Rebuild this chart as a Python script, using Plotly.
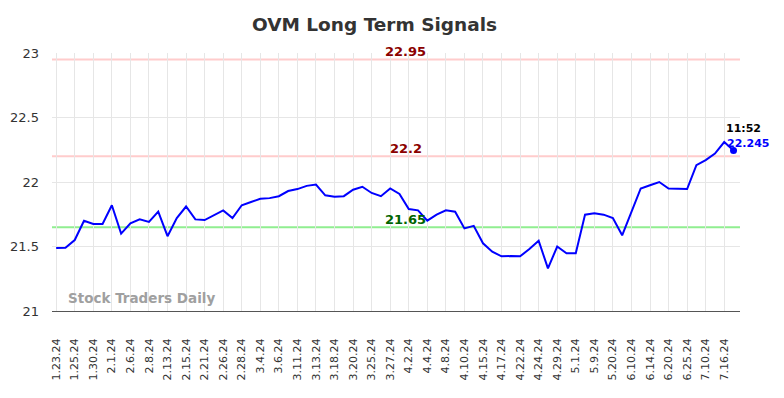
import plotly.graph_objects as go

dates = ["1.23.24","1.24.24","1.25.24","1.26.24","1.30.24","1.31.24","2.1.24","2.2.24",
         "2.6.24","2.7.24","2.8.24","2.9.24","2.13.24","2.14.24","2.15.24","2.16.24",
         "2.21.24","2.23.24","2.26.24","2.27.24","2.28.24","3.1.24","3.4.24","3.5.24",
         "3.6.24","3.8.24","3.11.24","3.12.24","3.13.24","3.15.24","3.18.24","3.19.24",
         "3.20.24","3.22.24","3.25.24","3.26.24","3.27.24","4.1.24","4.2.24","4.3.24",
         "4.4.24","4.5.24","4.8.24","4.9.24","4.10.24","4.12.24","4.15.24","4.16.24",
         "4.17.24","4.19.24","4.22.24","4.23.24","4.24.24","4.26.24","4.29.24","4.30.24",
         "5.1.24","5.3.24","5.9.24","5.15.24","5.20.24","5.30.24","6.10.24","6.12.24",
         "6.14.24","6.18.24","6.20.24","6.21.24","6.25.24","7.1.24","7.10.24","7.12.24",
         "7.16.24","7.18.24"]

values = [21.488,21.49,21.55,21.70,21.675,21.675,21.82,21.60,21.68,21.71,
          21.69,21.77,21.58,21.72,21.81,21.71,21.705,21.74,21.78,21.72,
          21.82,21.845,21.87,21.875,21.89,21.93,21.945,21.97,21.98,21.897,
          21.886,21.89,21.94,21.963,21.915,21.89,21.95,21.907,21.79,21.78,
          21.70,21.747,21.78,21.77,21.64,21.66,21.525,21.46,21.424,21.426,
          21.424,21.48,21.545,21.33,21.50,21.447,21.447,21.747,21.757,21.747,
          21.72,21.587,21.77,21.95,21.975,22.00,21.95,21.948,21.945,22.13,
          22.17,22.22,22.31,22.245]

levels = [22.95, 22.2, 21.65]
level_labels = ["22.95", "22.2", "21.65"]
level_line_colors = ["#ffcccc", "#ffcccc", "#90ee90"]
level_text_colors = ["#8b0000", "#8b0000", "#006400"]

last_time = "11:52"

n = len(values)
xs = list(range(n))
tick_idx = xs[::2]
tick_text = [dates[i] for i in tick_idx]

fig = go.Figure()
fig.add_trace(go.Scatter(x=xs, y=values, mode="lines",
                         line=dict(color="#0000ff", width=2), hoverinfo="skip"))
fig.add_trace(go.Scatter(x=[xs[-1]], y=[values[-1]], mode="markers",
                         marker=dict(color="#0000ff", size=7, symbol="circle"),
                         hoverinfo="skip"))

for lv, lab, lc, tc in zip(levels, level_labels, level_line_colors, level_text_colors):
    fig.add_shape(type="line", xref="paper", x0=0, x1=1, yref="y", y0=lv, y1=lv,
                  line=dict(color=lc, width=2), layer="below")
    fig.add_annotation(x=37.7, y=lv, text=lab, showarrow=False, yshift=8,
                       font=dict(color=tc, size=13, family="DejaVu Sans", weight="bold"))

fig.add_annotation(x=xs[-1], y=values[-1], text=last_time, showarrow=False,
                   xanchor="center", yshift=22, xshift=10,
                   font=dict(color="#000000", size=11, family="DejaVu Sans", weight="bold"))
fig.add_annotation(x=xs[-1], y=values[-1], text=f"{values[-1]}", showarrow=False,
                   xanchor="center", yshift=7, xshift=14,
                   font=dict(color="#0000ff", size=11, family="DejaVu Sans", weight="bold"))

fig.add_annotation(xref="paper", yref="paper", x=0.02, y=0.01, xanchor="left", yanchor="bottom",
                   text="Stock Traders Daily", showarrow=False,
                   font=dict(color="#a0a0a0", size=13.5, family="DejaVu Sans", weight="bold"))

fig.update_layout(
    width=784, height=398,
    margin=dict(l=44, r=52, t=45, b=95, autoexpand=False),
    paper_bgcolor="white", plot_bgcolor="white",
    showlegend=False,
    title=dict(text="OVM Long Term Signals", x=0.4675, xanchor="center",
               y=1 - 17/398, yanchor="middle",
               font=dict(size=18.5, color="#333333", family="DejaVu Sans", weight="bold")),
    font=dict(family="DejaVu Sans", color="#333333"),
)
fig.update_xaxes(range=[-0.45, 73.7], tickmode="array", tickvals=tick_idx, ticktext=tick_text,
                 tickangle=-90, tickfont=dict(size=11, color="#333333"), ticklabelstandoff=22,
                 automargin=False,
                 showgrid=True, gridcolor="#e6e6e6", gridwidth=1,
                 showline=True, linecolor="#555555", linewidth=1, zeroline=False, ticks="")
fig.update_yaxes(range=[21, 23], tickvals=[21, 21.5, 22, 22.5, 23],
                 ticktext=["21", "21.5", "22", "22.5", "23"],
                 tickfont=dict(size=13, color="#333333"), ticklabelstandoff=12,
                 automargin=False,
                 showgrid=True, gridcolor="#e6e6e6", zeroline=False, ticks="")

fig.write_html("out.html")
